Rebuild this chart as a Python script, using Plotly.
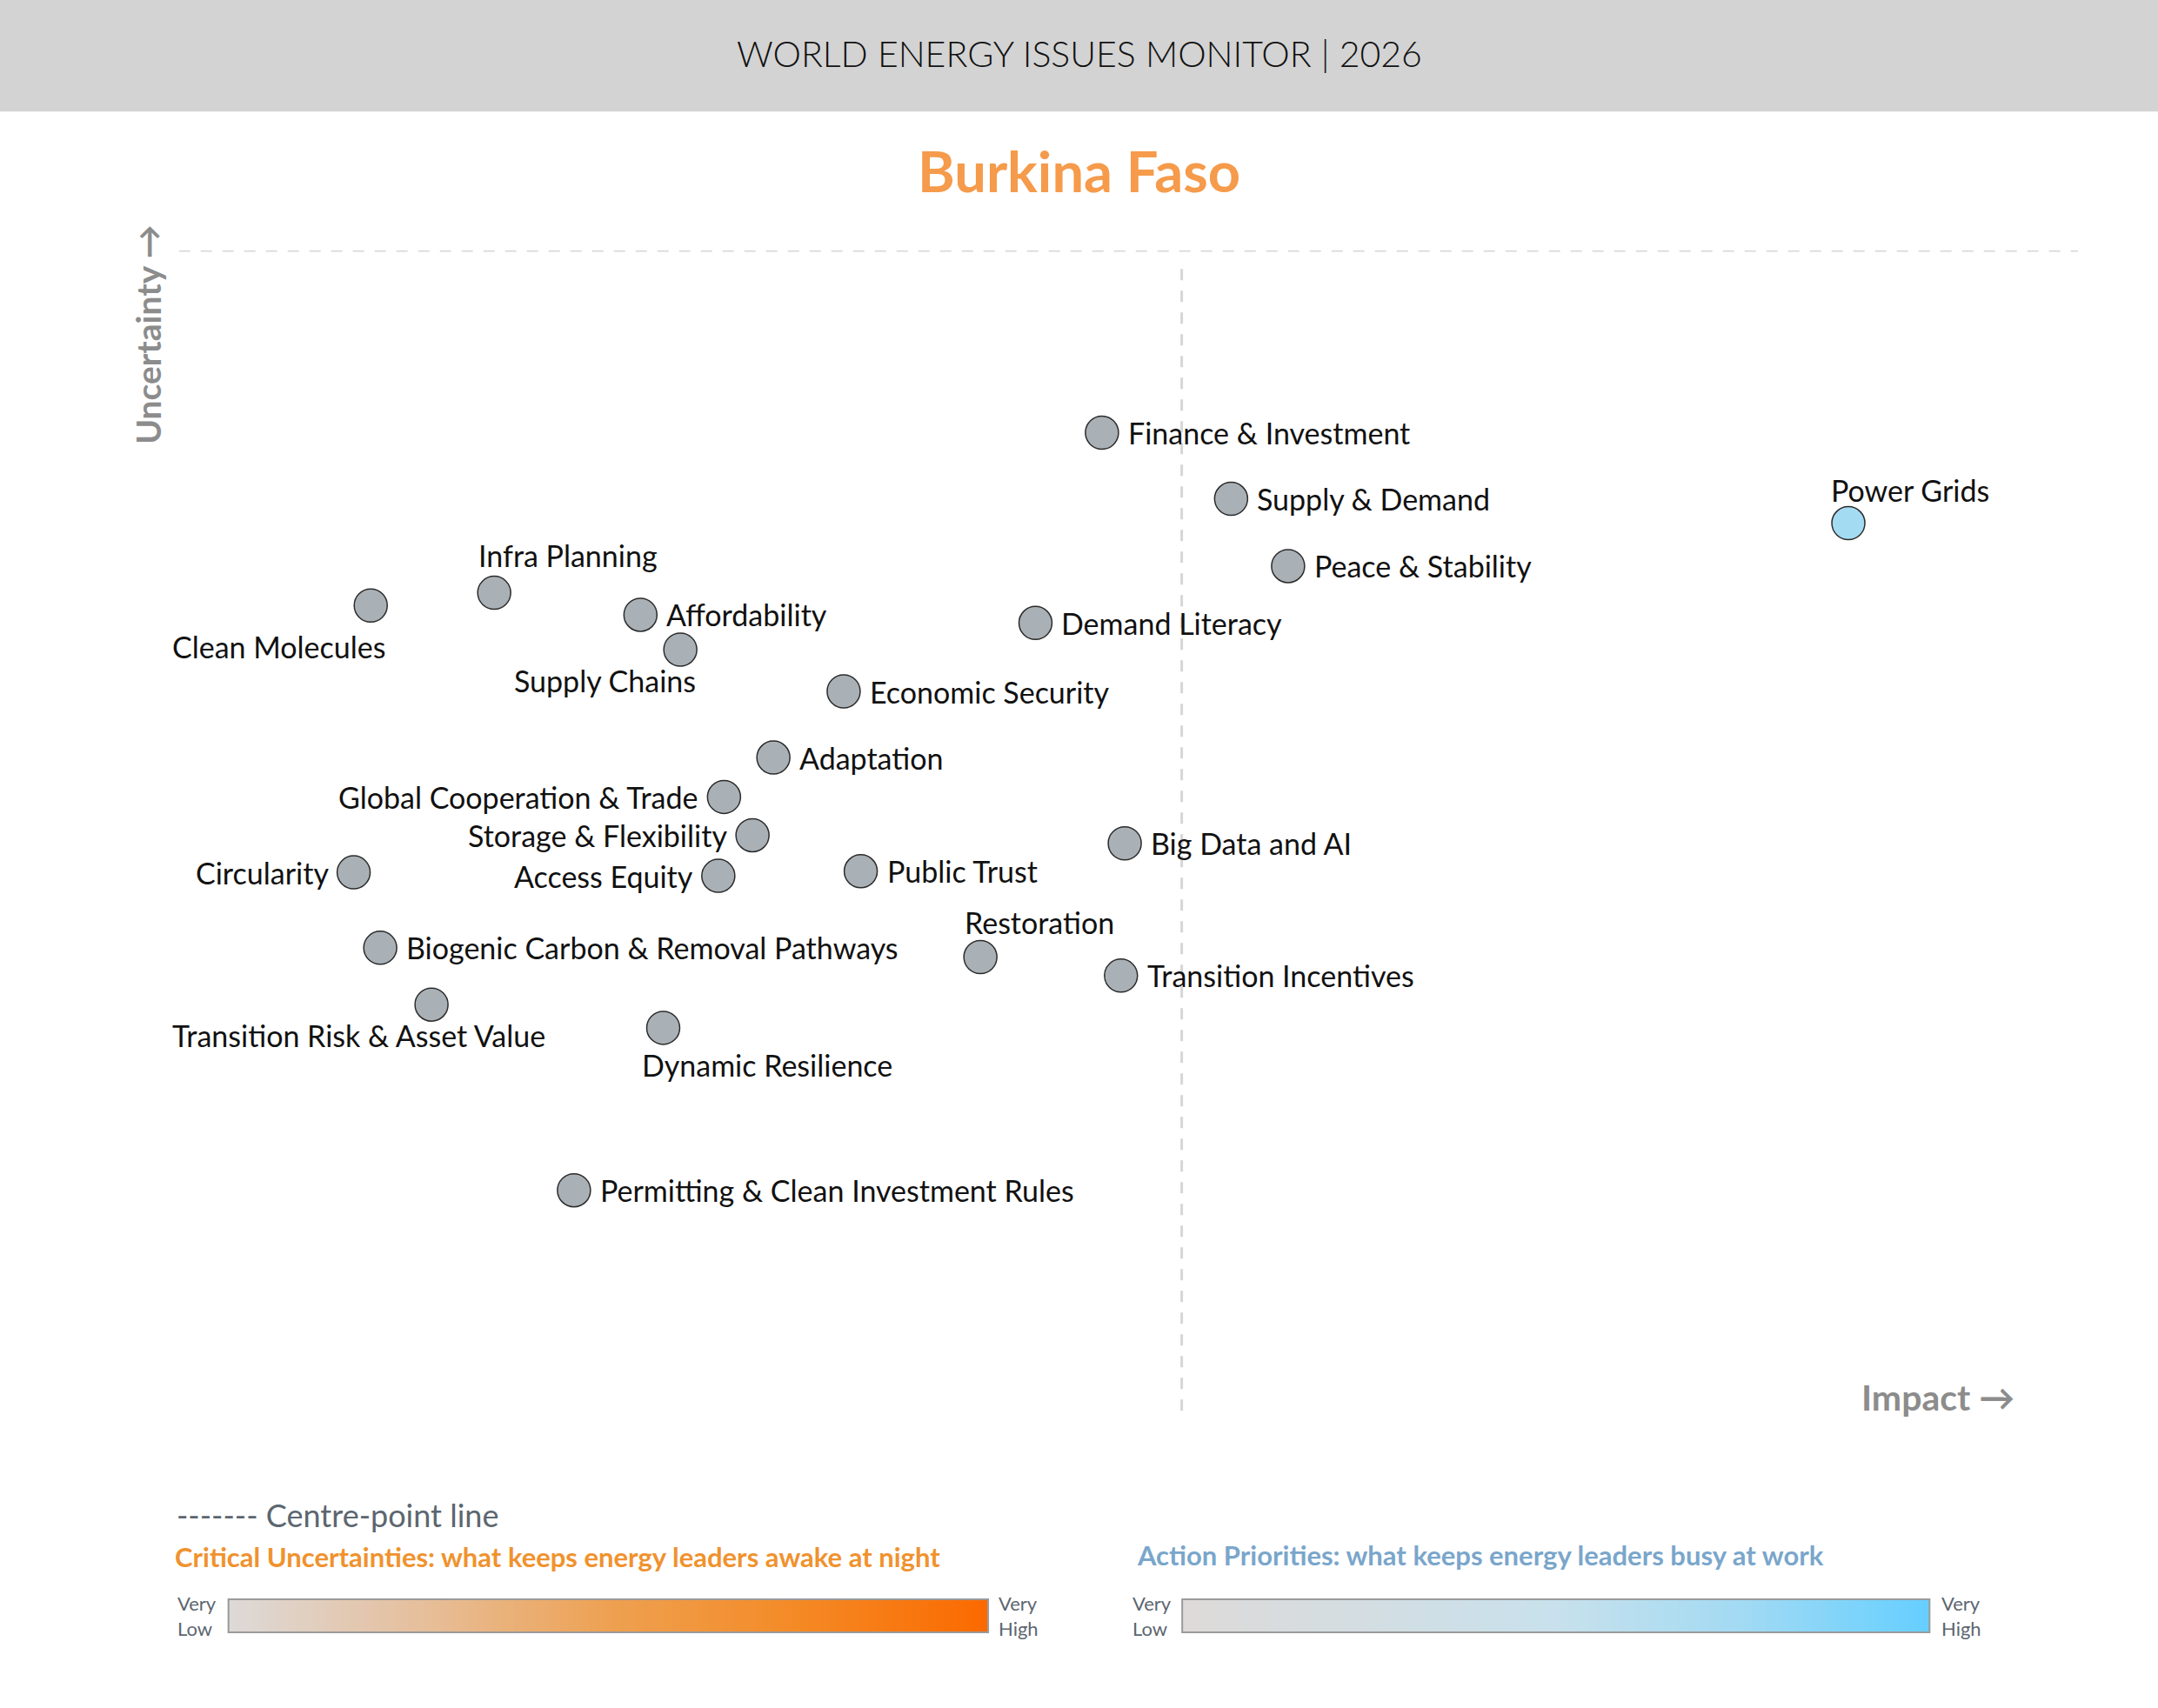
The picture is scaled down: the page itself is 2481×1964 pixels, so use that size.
import plotly.graph_objects as go

# ---------------- data ----------------
issues = [
    "Finance & Investment", "Supply & Demand", "Power Grids", "Peace & Stability",
    "Infra Planning", "Clean Molecules", "Affordability", "Supply Chains",
    "Demand Literacy", "Economic Security", "Adaptation", "Global Cooperation & Trade",
    "Storage & Flexibility", "Circularity", "Access Equity", "Public Trust",
    "Big Data and AI", "Restoration", "Transition Incentives",
    "Biogenic Carbon & Removal Pathways", "Transition Risk & Asset Value",
    "Dynamic Resilience", "Permitting & Clean Investment Rules",
]
impact = [48.6, 55.4, 87.9, 58.4, 16.6, 10.1, 24.3, 26.4, 45.1, 35.0, 31.3, 28.7,
          30.2, 9.2, 28.4, 35.9, 49.8, 42.2, 49.6, 10.6, 13.3, 25.5, 20.8]
uncertainty = [84.3, 78.6, 76.5, 72.8, 70.5, 69.4, 68.6, 65.6, 67.9, 62.0, 56.3, 52.9,
               49.6, 46.4, 46.1, 46.5, 48.9, 39.1, 37.5, 39.9, 35.0, 33.0, 19.0]
action_priority = ["Power Grids"]
centre_impact = 52.8
centre_uncertainty = 100
legend_steps = list(range(101))

country = "Burkina Faso"
header = "WORLD ENERGY ISSUES MONITOR | 2026"

# ---------------- styles ----------------
FONT = "Lato"
GREY_MARK = "#aab1b6"
BLUE_MARK = "#a3dbf3"
LABEL_SIZE = 34
# label placement: (xanchor, xshift, yshift)
left_labels = {"Global Cooperation & Trade", "Storage & Flexibility", "Circularity", "Access Equity"}
special = {
    "Clean Molecules": ("center", -106, -47),
    "Supply Chains": ("center", -87, -36),
    "Transition Risk & Asset Value": ("center", -84, -35),
    "Dynamic Resilience": ("center", 120, -43),
    "Infra Planning": ("center", 85, 43),
    "Power Grids": ("center", 71, 38),
    "Restoration": ("center", 68, 40),
}

W, H = 2481, 1964
DW, DH = 1568.0, 1241.0  # design coordinate frame


def px(x):
    return x / DW


def py(y):
    return 1 - y / DH


fig = go.Figure()

colors = [BLUE_MARK if n in action_priority else GREY_MARK for n in issues]
fig.add_trace(go.Scatter(
    x=impact, y=uncertainty, mode="markers",
    marker=dict(size=38, color=colors, line=dict(color="#2b2b2b", width=1.5)),
    hoverinfo="text", text=issues, cliponaxis=False, showlegend=False,
))

annotations = []
for n, xv, yv in zip(issues, impact, uncertainty):
    if n in special:
        xa, xs, ys = special[n]
    elif n in left_labels:
        xa, xs, ys = "right", -27, 0
    else:
        xa, xs, ys = "left", 28, 0
    annotations.append(dict(
        x=xv, y=yv, xref="x", yref="y", text=n, showarrow=False,
        xanchor=xa, yanchor="middle", xshift=xs, yshift=ys,
        font=dict(family=FONT, size=LABEL_SIZE, color="#111111"),
    ))

# header / titles
annotations += [
    dict(x=0.5, y=py(39), xref="paper", yref="paper", text=header, showarrow=False,
         xanchor="center", yanchor="middle",
         font=dict(family=FONT, size=41, color="#111111", weight=300)),
    dict(x=0.5, y=py(124), xref="paper", yref="paper", text=country, showarrow=False,
         xanchor="center", yanchor="middle",
         font=dict(family=FONT, size=65, color="#f59b4b", weight=700)),
    dict(x=px(107), y=py(243), xref="paper", yref="paper", text="Uncertainty \u2192",
         showarrow=False, textangle=-90, xanchor="center", yanchor="middle",
         font=dict(family=FONT, size=39, color="#8c8c8c", weight=700)),
    dict(x=px(1465), y=py(1015), xref="paper", yref="paper", text="Impact \u2192",
         showarrow=False, xanchor="right", yanchor="middle",
         font=dict(family=FONT, size=41, color="#8c8c8c", weight=700)),
    dict(x=px(127), y=py(1101), xref="paper", yref="paper", text="------- Centre-point line",
         showarrow=False, xanchor="left", yanchor="middle",
         font=dict(family=FONT, size=36, color="#5c6670", weight=400)),
    dict(x=px(126), y=py(1131), xref="paper", yref="paper",
         text="Critical Uncertainties: what keeps energy leaders awake at night",
         showarrow=False, xanchor="left", yanchor="middle",
         font=dict(family=FONT, size=31, color="#f0922e", weight=700)),
    dict(x=px(825), y=py(1130), xref="paper", yref="paper",
         text="Action Priorities: what keeps energy leaders busy at work",
         showarrow=False, xanchor="left", yanchor="middle",
         font=dict(family=FONT, size=31, color="#7aa6cb", weight=700)),
]
for cx, t in [(143, "Very<br>Low"), (740, "Very<br>High"), (837, "Very<br>Low"), (1425, "Very<br>High")]:
    annotations.append(dict(
        x=px(cx), y=py(1174), xref="paper", yref="paper", text=t, showarrow=False,
        xanchor="center", yanchor="middle", align="left",
        font=dict(family=FONT, size=22, color="#5c6670"),
    ))

# gradient legend bars
orange_scale = [[0, "#ddd9d7"], [0.25, "#e6bf9c"], [0.5, "#eea152"], [0.75, "#f48a26"], [1, "#fb6a00"]]
blue_scale = [[0, "#dedad9"], [0.5, "#c8e1ec"], [0.75, "#a2daf3"], [1, "#66cfff"]]
fig.add_trace(go.Heatmap(z=[legend_steps], x=legend_steps, y=[0], colorscale=orange_scale,
                         showscale=False, hoverinfo="skip", xaxis="x2", yaxis="y2"))
fig.add_trace(go.Heatmap(z=[legend_steps], x=legend_steps, y=[0], colorscale=blue_scale,
                         showscale=False, hoverinfo="skip", xaxis="x3", yaxis="y3"))

shapes = [
    dict(type="rect", xref="paper", yref="paper", x0=0, x1=1, y0=py(81), y1=1,
         fillcolor="#d3d3d3", line=dict(width=0), layer="below"),
    dict(type="line", xref="x", yref="y", x0=0, x1=100, y0=centre_uncertainty, y1=centre_uncertainty,
         line=dict(color="#d6d6d6", width=3, dash="13px,12px"), layer="below"),
    dict(type="line", xref="x", yref="y", x0=centre_impact, x1=centre_impact, y0=0, y1=98.5,
         line=dict(color="#d6d6d6", width=3, dash="13px,12px"), layer="below"),
    dict(type="rect", xref="paper", yref="paper", x0=px(166), x1=px(718), y0=py(1186), y1=py(1162),
         line=dict(color="#9a9a9a", width=2)),
    dict(type="rect", xref="paper", yref="paper", x0=px(859), x1=px(1402), y0=py(1186), y1=py(1162),
         line=dict(color="#9a9a9a", width=2)),
]

noax = dict(visible=False, showgrid=False, zeroline=False, fixedrange=True)
fig.update_layout(
    width=W, height=H,
    margin=dict(l=0, r=0, t=0, b=0),
    paper_bgcolor="white", plot_bgcolor="white",
    xaxis=dict(domain=[px(130), px(1510)], range=[0, 100], **noax),
    yaxis=dict(domain=[py(1025), py(182)], range=[0, 100], **noax),
    xaxis2=dict(domain=[px(166), px(718)], range=[-0.5, 100.5], anchor="y2", **noax),
    yaxis2=dict(domain=[py(1186), py(1162)], range=[-0.5, 0.5], anchor="x2", **noax),
    xaxis3=dict(domain=[px(859), px(1402)], range=[-0.5, 100.5], anchor="y3", **noax),
    yaxis3=dict(domain=[py(1186), py(1162)], range=[-0.5, 0.5], anchor="x3", **noax),
    annotations=annotations, shapes=shapes,
    font=dict(family=FONT),
)

fig.write_html(
    "out.html",
    config={"displayModeBar": False},
    post_script="document.body.style.margin='0';document.body.style.overflow='hidden';",
)
